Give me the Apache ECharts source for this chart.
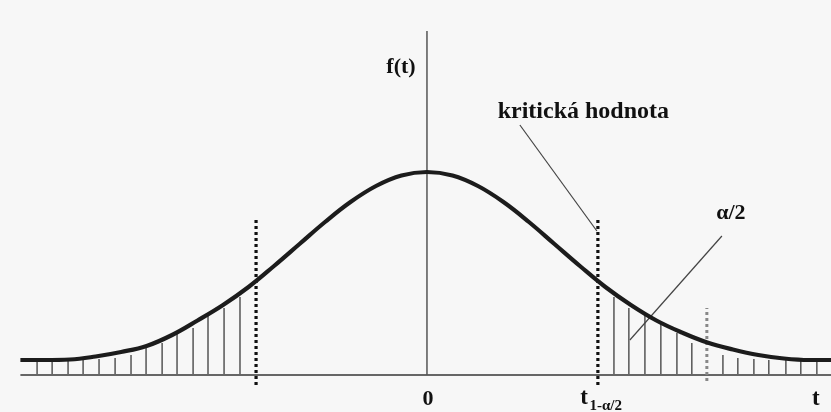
<!DOCTYPE html>
<html>
<head>
<meta charset="utf-8">
<script src="https://cdn.jsdelivr.net/npm/echarts@6/dist/echarts.min.js"></script>
<style>
  html, body { margin: 0; padding: 0; background: #f7f7f7; }
  #chart { width: 831px; height: 412px; }
</style>
</head>
<body>
<div id="chart"></div>
<script>
// Density curve f(t): sample positions and heights
const curveT = [-3.19, -3.0, -2.8, -2.6, -2.4, -2.2, -2.0, -1.8, -1.6, -1.4, -1.2, -1.0, -0.8, -0.6, -0.4, -0.2, 0,
                0.2, 0.4, 0.6, 0.8, 1.0, 1.2, 1.4, 1.6, 1.8, 2.0, 2.2, 2.4, 2.6, 2.8, 3.0, 3.17];
const curveF = [0.030, 0.030, 0.031, 0.037, 0.046, 0.058, 0.080, 0.109, 0.140, 0.176, 0.218, 0.262, 0.306, 0.346, 0.378, 0.399, 0.406,
                0.399, 0.378, 0.346, 0.306, 0.262, 0.218, 0.176, 0.140, 0.109, 0.085, 0.065, 0.051, 0.040, 0.033, 0.030, 0.030];

// Hatching in the left tail (t, height of stroke)
const leftHatchT   = [-3.059, -2.941, -2.816, -2.698, -2.573, -2.447, -2.322, -2.204, -2.078, -1.961, -1.835, -1.718, -1.592, -1.467];
const leftHatchTop = [0.030, 0.030, 0.030, 0.030, 0.032, 0.034, 0.040, 0.056, 0.064, 0.084, 0.094, 0.120, 0.134, 0.156];

// Hatching in the right tail
const rightHatchT   = [1.467, 1.584, 1.710, 1.835, 1.961, 2.078, 2.322, 2.439, 2.565, 2.682, 2.816, 2.933, 3.059];
const rightHatchTop = [0.156, 0.134, 0.120, 0.104, 0.084, 0.064, 0.040, 0.034, 0.032, 0.030, 0.030, 0.030, 0.030];

// Critical values and the extra grey marker
const criticalT = 1.341;
const extraT = 2.196;

// Axis labels
const tickLabels = ['0', 't', '1-α/2', 't'];
const annotationTexts = ['f(t)', 'kritická hodnota', 'α/2'];

const serif = '"Liberation Serif", "Times New Roman", serif';

const curveData = curveT.map((t, i) => [t, curveF[i]]);
const hatchData = leftHatchT.map((t, i) => [t, leftHatchTop[i]])
  .concat(rightHatchT.map((t, i) => [t, rightHatchTop[i]]));

function segment(name, pts, style) {
  return {
    name: name, type: 'line', data: pts, symbol: 'none', silent: true,
    lineStyle: style, z: 3
  };
}

function label(text, pos, size) {
  return {
    value: pos,
    label: {
      show: true, position: 'inside', formatter: text, opacity: 1,
      fontFamily: serif, fontWeight: 'bold', fontSize: size, color: '#111'
    }
  };
}

const chart = echarts.init(document.getElementById('chart'));
chart.setOption({
  animation: false,
  backgroundColor: '#f7f7f7',
  grid: { left: 0, right: 0, top: 0, bottom: 0 },
  xAxis: { type: 'value', min: -3.35, max: 3.17, show: false },
  yAxis: { type: 'value', min: -0.074, max: 0.75, show: false },
  series: [
    // axes
    segment('t-axis', [[-3.19, 0], [3.17, 0]], { color: '#666', width: 2 }),
    segment('f-axis', [[0, 0], [0, 0.688]], { color: '#555', width: 1.5 }),
    // tail hatching
    {
      name: 'hatch', type: 'custom', data: hatchData, silent: true, z: 2,
      renderItem: function (params, api) {
        const p0 = api.coord([api.value(0), 0]);
        const p1 = api.coord([api.value(0), api.value(1)]);
        return {
          type: 'line',
          shape: { x1: p0[0], y1: p0[1], x2: p1[0], y2: p1[1] },
          style: { stroke: '#555', lineWidth: 1.5 }
        };
      }
    },
    // density curve
    {
      name: 'f(t)', type: 'line', data: curveData, symbol: 'none', smooth: 0.4, silent: true, z: 4,
      lineStyle: { color: '#1c1c1c', width: 4.2 }
    },
    // critical value markers
    segment('crit-left', [[-criticalT, -0.020], [-criticalT, 0.312]],
      { color: '#111', width: 3.2, type: [3, 3], cap: 'butt' }),
    segment('crit-right', [[criticalT, -0.020], [criticalT, 0.312]],
      { color: '#111', width: 3.2, type: [3, 3], cap: 'butt' }),
    segment('extra', [[extraT, -0.012], [extraT, 0.134]],
      { color: '#888', width: 3, type: [3, 3], cap: 'butt' }),
    // leader lines
    segment('lead-crit', [[0.729, 0.500], [1.333, 0.288]], { color: '#444', width: 1.2 }),
    segment('lead-alpha', [[2.314, 0.278], [1.592, 0.070]], { color: '#444', width: 1.2 }),
    // text
    {
      name: 'labels', type: 'scatter', symbolSize: 0, silent: true, z: 5,
      itemStyle: { color: 'rgba(0,0,0,0)' },
      data: [
        label(tickLabels[0], [0.008, -0.049], 22),
        label(tickLabels[1], [1.232, -0.047], 23),
        label(tickLabels[2], [1.402, -0.063], 15),
        label(tickLabels[3], [3.051, -0.049], 23),
        label(annotationTexts[0], [-0.204, 0.616], 22),
        label(annotationTexts[1], [1.227, 0.526], 24),
        label(annotationTexts[2], [2.384, 0.324], 22)
      ]
    }
  ]
});
</script>
</body>
</html>
